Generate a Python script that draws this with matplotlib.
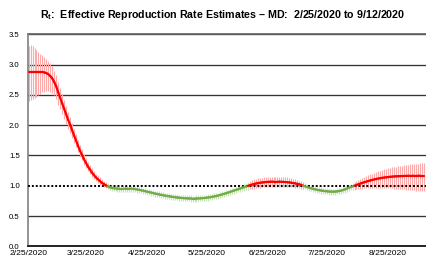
import numpy as np
import matplotlib
matplotlib.use('Agg')
import matplotlib.pyplot as plt
import matplotlib.dates as mdates
from matplotlib.collections import LineCollection
import pandas as pd

# ---------------- data ----------------
start_date = '2020-02-25'

rt_mean = [
    2.88, 2.88, 2.88, 2.88, 2.88, 2.88, 2.88, 2.88, 2.87, 2.86,
    2.84, 2.81, 2.77, 2.71, 2.64, 2.54, 2.45, 2.36, 2.27, 2.18,
    2.09, 2.01, 1.92, 1.83, 1.75, 1.66, 1.58, 1.51, 1.44, 1.38,
    1.32, 1.27, 1.22, 1.18, 1.14, 1.11, 1.08, 1.05, 1.03, 1.01,
    0.99, 0.975, 0.965, 0.96, 0.955, 0.952, 0.95, 0.95, 0.95, 0.951,
    0.952, 0.952, 0.951, 0.948, 0.944, 0.938, 0.932, 0.925, 0.918, 0.91,
    0.902, 0.895, 0.887, 0.879, 0.871, 0.864, 0.857, 0.85, 0.844, 0.838,
    0.832, 0.826, 0.821, 0.816, 0.811, 0.807, 0.803, 0.80, 0.797, 0.794,
    0.792, 0.79, 0.789, 0.788, 0.788, 0.789, 0.79, 0.792, 0.795, 0.798,
    0.802, 0.806, 0.811, 0.817, 0.823, 0.83, 0.838, 0.847, 0.856, 0.866,
    0.876, 0.887, 0.898, 0.909, 0.92, 0.931, 0.942, 0.953, 0.964, 0.975,
    0.986, 0.997, 1.008, 1.018, 1.027, 1.035, 1.042, 1.048, 1.053, 1.057,
    1.06, 1.063, 1.065, 1.066, 1.067, 1.067, 1.067, 1.066, 1.065, 1.063,
    1.061, 1.058, 1.054, 1.05, 1.044, 1.038, 1.031, 1.023, 1.013, 1.002,
    0.99, 0.979, 0.968, 0.958, 0.949, 0.941, 0.934, 0.927, 0.921, 0.916,
    0.912, 0.908, 0.905, 0.903, 0.902, 0.903, 0.906, 0.911, 0.918, 0.927,
    0.938, 0.951, 0.964, 0.977, 0.989, 1.0, 1.012, 1.024, 1.036, 1.047,
    1.058, 1.068, 1.078, 1.087, 1.096, 1.104, 1.111, 1.118, 1.124, 1.13,
    1.135, 1.139, 1.143, 1.147, 1.15, 1.153, 1.155, 1.157, 1.159, 1.16,
    1.161, 1.162, 1.163, 1.164, 1.164, 1.165, 1.165, 1.165, 1.166, 1.166,
    1.166,
]

err_hi = [
    0.42, 0.44, 0.42, 0.39, 0.36, 0.33, 0.30, 0.28, 0.26, 0.24,
    0.22, 0.21, 0.20, 0.19, 0.18, 0.17, 0.16, 0.15, 0.14, 0.13,
    0.12, 0.12, 0.11, 0.11, 0.10, 0.10, 0.09, 0.09, 0.08, 0.08,
    0.08, 0.07, 0.07, 0.07, 0.06, 0.06, 0.06, 0.06, 0.05, 0.05,
    0.05, 0.05, 0.05, 0.05, 0.05, 0.05, 0.05, 0.05, 0.05, 0.05,
    0.05, 0.05, 0.05, 0.05, 0.05, 0.05, 0.05, 0.05, 0.05, 0.05,
    0.05, 0.05, 0.05, 0.05, 0.05, 0.05, 0.05, 0.05, 0.05, 0.05,
    0.05, 0.05, 0.05, 0.05, 0.05, 0.05, 0.05, 0.05, 0.05, 0.05,
    0.05, 0.05, 0.05, 0.05, 0.05, 0.05, 0.05, 0.05, 0.05, 0.05,
    0.05, 0.05, 0.05, 0.05, 0.05, 0.05, 0.05, 0.05, 0.05, 0.05,
    0.05, 0.05, 0.05, 0.05, 0.05, 0.05, 0.05, 0.05, 0.05, 0.055,
    0.06, 0.065, 0.07, 0.075, 0.08, 0.08, 0.08, 0.08, 0.08, 0.08,
    0.08, 0.08, 0.08, 0.08, 0.08, 0.08, 0.08, 0.08, 0.08, 0.08,
    0.08, 0.08, 0.08, 0.075, 0.07, 0.07, 0.065, 0.06, 0.06, 0.055,
    0.05, 0.05, 0.05, 0.05, 0.05, 0.05, 0.05, 0.05, 0.05, 0.05,
    0.05, 0.05, 0.05, 0.05, 0.05, 0.05, 0.05, 0.05, 0.05, 0.05,
    0.05, 0.05, 0.05, 0.055, 0.055, 0.06, 0.065, 0.07, 0.075, 0.08,
    0.085, 0.09, 0.095, 0.10, 0.105, 0.11, 0.115, 0.12, 0.125, 0.13,
    0.135, 0.14, 0.144, 0.148, 0.152, 0.156, 0.16, 0.164, 0.168, 0.172,
    0.176, 0.18, 0.184, 0.188, 0.192, 0.195, 0.198, 0.201, 0.204, 0.207,
    0.21,
]

err_lo = [
    0.48, 0.46, 0.45, 0.43, 0.41, 0.38, 0.36, 0.34, 0.32, 0.30,
    0.28, 0.26, 0.24, 0.22, 0.21, 0.20, 0.19, 0.18, 0.17, 0.16,
    0.15, 0.14, 0.13, 0.12, 0.11, 0.10, 0.10, 0.09, 0.09, 0.08,
    0.08, 0.08, 0.07, 0.07, 0.07, 0.06, 0.06, 0.06, 0.05, 0.05,
    0.05, 0.05, 0.05, 0.05, 0.05, 0.05, 0.05, 0.05, 0.05, 0.05,
    0.05, 0.05, 0.05, 0.05, 0.05, 0.05, 0.05, 0.05, 0.05, 0.05,
    0.05, 0.05, 0.05, 0.05, 0.05, 0.05, 0.05, 0.05, 0.05, 0.05,
    0.05, 0.05, 0.05, 0.05, 0.05, 0.05, 0.05, 0.05, 0.05, 0.05,
    0.05, 0.05, 0.05, 0.05, 0.05, 0.05, 0.05, 0.05, 0.05, 0.05,
    0.05, 0.05, 0.05, 0.05, 0.05, 0.05, 0.05, 0.05, 0.05, 0.05,
    0.05, 0.05, 0.05, 0.05, 0.05, 0.05, 0.05, 0.05, 0.05, 0.055,
    0.06, 0.065, 0.07, 0.075, 0.08, 0.08, 0.08, 0.08, 0.08, 0.08,
    0.08, 0.08, 0.08, 0.08, 0.08, 0.08, 0.08, 0.08, 0.08, 0.08,
    0.08, 0.08, 0.08, 0.075, 0.07, 0.07, 0.065, 0.06, 0.06, 0.055,
    0.05, 0.05, 0.05, 0.05, 0.05, 0.05, 0.05, 0.05, 0.05, 0.05,
    0.05, 0.05, 0.05, 0.05, 0.05, 0.05, 0.05, 0.05, 0.05, 0.05,
    0.05, 0.05, 0.05, 0.055, 0.06, 0.065, 0.07, 0.078, 0.086, 0.094,
    0.102, 0.11, 0.118, 0.126, 0.134, 0.142, 0.15, 0.156, 0.162, 0.168,
    0.174, 0.18, 0.185, 0.19, 0.195, 0.20, 0.205, 0.21, 0.214, 0.218,
    0.222, 0.226, 0.23, 0.234, 0.238, 0.242, 0.246, 0.25, 0.253, 0.256,
    0.26,
]

tick_dates = ['2020-02-25', '2020-03-25', '2020-04-25', '2020-05-25',
              '2020-06-25', '2020-07-25', '2020-08-25']
tick_labels = ['2/25/2020', '3/25/2020', '4/25/2020', '5/25/2020',
               '6/25/2020', '7/25/2020', '8/25/2020']
y_ticks = [0.0, 0.5, 1.0, 1.5, 2.0, 2.5, 3.0, 3.5]
y_labels = ['0.0', '0.5', '1.0', '1.5', '2.0', '2.5', '3.0', '3.5']
threshold = 1.0
title = (r'R$_{\mathrm{t}}$:  Effective Reproduction Rate Estimates '
         '\u2013 MD:  2/25/2020 to 9/12/2020')

# ---------------- styling ----------------
plt.rcParams['font.family'] = ['Liberation Sans', 'DejaVu Sans']
plt.rcParams['mathtext.fontset'] = 'custom'
plt.rcParams['mathtext.rm'] = 'Liberation Sans:bold'
plt.rcParams['mathtext.it'] = 'Liberation Sans:bold'
plt.rcParams['mathtext.bf'] = 'Liberation Sans:bold'

RED = '#FF0000'
PINK = '#FFAAAA'
GREEN = '#70AD47'
LGREEN = '#C8E2B5'

mean = np.array(rt_mean)
hi = mean + np.array(err_hi)
lo = mean - np.array(err_lo)
dates = pd.date_range(start_date, periods=len(mean))
x = mdates.date2num(dates)

W, H = 427, 261
fig = plt.figure(figsize=(W / 100, H / 100), dpi=100)
ax = fig.add_axes([28 / W, 14.7 / H, 1 - 28 / W, 212 / H])

# gridlines
for yv in y_ticks:
    if yv in (0.0, threshold):
        continue
    ax.axhline(yv, color='#333333', lw=0.95, zorder=1)

# daily interval bars
bar_colors = [PINK if m >= threshold else LGREEN for m in mean]
ax.vlines(x, lo, hi, colors=bar_colors, lw=0.8, zorder=2)

# threshold dotted line
ax.axhline(threshold, color='black', lw=1.4, linestyle=(0, (1, 1)), zorder=3)

# mean line coloured by regime
pts = np.column_stack([x, mean])
segs = np.stack([pts[:-1], pts[1:]], axis=1)
seg_cols = [RED if (a + b) / 2 >= threshold else GREEN
            for a, b in zip(mean[:-1], mean[1:])]
lc = LineCollection(segs, colors=seg_cols, linewidths=1.6,
                    capstyle='round', zorder=4)
ax.add_collection(lc)

ax.set_xlim(x[0] - 0.3, x[0] + 201.7)
ax.set_ylim(0, 3.5)

ax.set_yticks(y_ticks)
ax.set_yticklabels(y_labels)
ax.set_xticks(mdates.date2num(pd.to_datetime(tick_dates)))
ax.set_xticklabels(tick_labels)
ax.tick_params(axis='both', length=0, colors='black')
ax.tick_params(axis='y', pad=6, labelsize=5.6)
ax.tick_params(axis='x', pad=2.5, labelsize=6.1)

for s in ('top', 'right'):
    ax.spines[s].set_visible(False)
ax.spines['left'].set_color('#808080')
ax.spines['left'].set_linewidth(1.2)
ax.spines['bottom'].set_color('#222222')
ax.spines['bottom'].set_linewidth(1.4)
ax.axhline(3.5, color='#606060', lw=1.2, zorder=1, clip_on=False)

fig.text(222.5 / W, 1 - 15 / H, title, ha='center', va='center',
         fontsize=7.7, fontweight='bold')

fig.savefig('out.png', dpi=100)
